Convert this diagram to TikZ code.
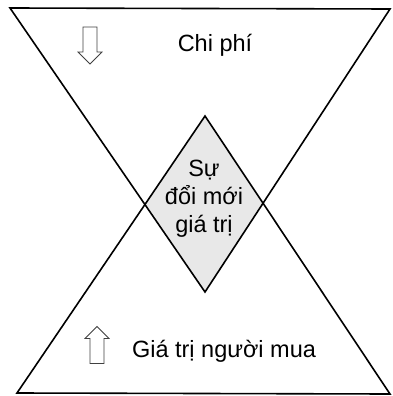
\documentclass[tikz,border=0pt]{standalone}
\usepackage{fontspec}
\setmainfont{Liberation Sans}

\begin{document}
\begin{tikzpicture}[
        x=1pt, y=-1pt,
        % Estilos das linhas e textos
        edge/.style={line width=1.6pt, line join=miter, draw=black},
        core/.style={fill=black!9},
        lbl/.style={inner sep=0pt, font=\fontsize{23.5}{28}\selectfont, align=center},
        % Seta oca (aponta para baixo; yscale=-1 para cima)
        hollowarrow/.pic={
            \draw[draw=black!75, line width=0.8pt, fill=white]
                (-7,-18.5) -- (7,-18.5) -- (7,6.5) -- (12,6.5) -- (0,18.5)
                -- (-12,6.5) -- (-7,6.5) -- cycle;
        }
    ]

    \useasboundingbox (0,0) rectangle (393,396);

    % Vertices dos dois triangulos
    \coordinate (tl) at (10,8);
    \coordinate (tr) at (390,9);
    \coordinate (tb) at (205,292);
    \coordinate (bl) at (17,393);
    \coordinate (br) at (390,394);
    \coordinate (bt) at (205,116);

    % Cruzamentos (cantos do losango)
    \coordinate (lx) at (intersection of tl--tb and bl--bt);
    \coordinate (rx) at (intersection of tr--tb and br--bt);

    % Losango central
    \fill[core] (bt) -- (rx) -- (tb) -- (lx) -- cycle;

    % Triangulos
    \draw[edge] (tl) -- (tr) -- (tb) -- cycle;
    \draw[edge] (bl) -- (br) -- (bt) -- cycle;

    % Textos
    \node[lbl] (cost) at (215,45) {Chi phí};
    \node[lbl] (value) at (224,351) {Giá trị người mua};
    \node[lbl] (innov) at (204,199) {Sự\\đổi mới\\giá trị};

    % Setas
    \pic at (90,45.5) {hollowarrow};
    \pic[yscale=-1] at (97,345) {hollowarrow};

\end{tikzpicture}
\end{document}
